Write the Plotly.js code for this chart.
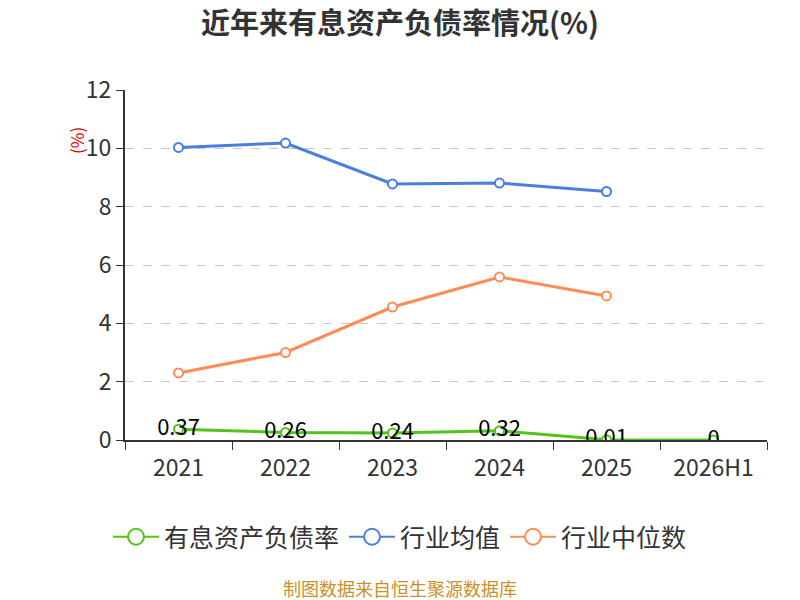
<!DOCTYPE html>
<html>
<head>
<meta charset="utf-8">
<script src="https://cdn.plot.ly/plotly-3.0.1.min.js"></script>
<style>
  html, body { margin: 0; padding: 0; background: #fff; }
  #plot { width: 800px; height: 600px; }
</style>
</head>
<body>
<div id="plot"></div>
<script>
// categories and series
let years = ['2021', '2022', '2023', '2024', '2025', '2026H1'];
let debtRatio = [0.37, 0.26, 0.24, 0.32, 0.01, 0];
let industryMean = [10.03, 10.18, 8.78, 8.81, 8.52];
let industryMedian = [2.30, 3.00, 4.56, 5.59, 4.94];

let names = ['有息资产负债率', '行业均值', '行业中位数'];
let colors = ['#52c41a', '#4a7fe0', '#ff8c55'];
let font = '"Noto Sans CJK SC", "Noto Sans", sans-serif';

function lineTrace(i, y) {
  return {
    x: years.slice(0, y.length),
    y: y,
    name: names[i],
    legendgroup: 'g' + i,
    showlegend: false,
    type: 'scatter',
    mode: 'lines+markers',
    line: {color: colors[i], width: 3},
    marker: {size: 9, color: '#fff', line: {color: colors[i], width: 2}}
  };
}

// legend entries only (bigger symbols like the original)
function legendTrace(i) {
  return {
    x: [null],
    y: [null],
    name: names[i],
    legendgroup: 'g' + i,
    type: 'scatter',
    mode: 'lines+markers',
    line: {color: colors[i], width: 2},
    marker: {size: 16, color: '#fff', line: {color: colors[i], width: 2}}
  };
}

let green = lineTrace(0, debtRatio);
green.mode = 'lines+markers+text';
green.text = debtRatio.map(v => String(v));
green.textposition = 'middle center';
green.textfont = {family: font, size: 22, color: '#000'};

let data = [
  green,
  lineTrace(1, industryMean),
  lineTrace(2, industryMedian),
  legendTrace(0),
  legendTrace(1),
  legendTrace(2)
];

let layout = {
  width: 800,
  height: 600,
  margin: {l: 125, r: 33, t: 90, b: 160},
  paper_bgcolor: '#fff',
  plot_bgcolor: '#fff',
  font: {family: font, color: '#333'},
  showlegend: true,
  title: {
    text: '<b>近年来有息资产负债率情况(%)</b>',
    font: {family: font, size: 29, color: '#333'},
    x: 0.5, xref: 'container', xanchor: 'center',
    y: 1 - 24 / 600, yref: 'container', yanchor: 'middle'
  },
  xaxis: {
    type: 'category',
    range: [-0.5, 5.5],
    tickson: 'boundaries',
    ticks: 'outside',
    ticklen: 8,
    tickcolor: '#333',
    ticklabelstandoff: 6,
    showline: true,
    linecolor: '#333',
    linewidth: 2,
    showgrid: false,
    tickfont: {family: font, size: 23, color: '#333'}
  },
  yaxis: {
    range: [0, 12],
    dtick: 2,
    ticks: 'outside',
    ticklen: 7,
    tickcolor: '#333',
    showline: true,
    linecolor: '#333',
    linewidth: 2,
    showgrid: true,
    gridcolor: '#c8c8c8',
    griddash: 'dash',
    zeroline: false,
    tickfont: {family: font, size: 23, color: '#333'}
  },
  legend: {
    orientation: 'h',
    xref: 'container', x: 0.5, xanchor: 'center',
    yref: 'container', y: 1 - 537 / 600, yanchor: 'middle',
    font: {family: font, size: 25, color: '#333'},
    itemwidth: 46
  },
  annotations: [
    {
      text: '(%)', textangle: -90,
      xref: 'paper', yref: 'paper',
      x: (62 - 125) / 642, y: (440 - 125) / 350,
      showarrow: false,
      font: {family: font, size: 17, color: '#e00000'}
    },
    {
      text: '制图数据来自恒生聚源数据库',
      xref: 'paper', yref: 'paper',
      x: (400 - 125) / 642, y: (440 - 588) / 350,
      xanchor: 'center', yanchor: 'middle',
      showarrow: false,
      font: {family: font, size: 18, color: '#c8922a'}
    }
  ]
};

Plotly.newPlot('plot', data, layout, {staticPlot: true});
</script>
</body>
</html>
